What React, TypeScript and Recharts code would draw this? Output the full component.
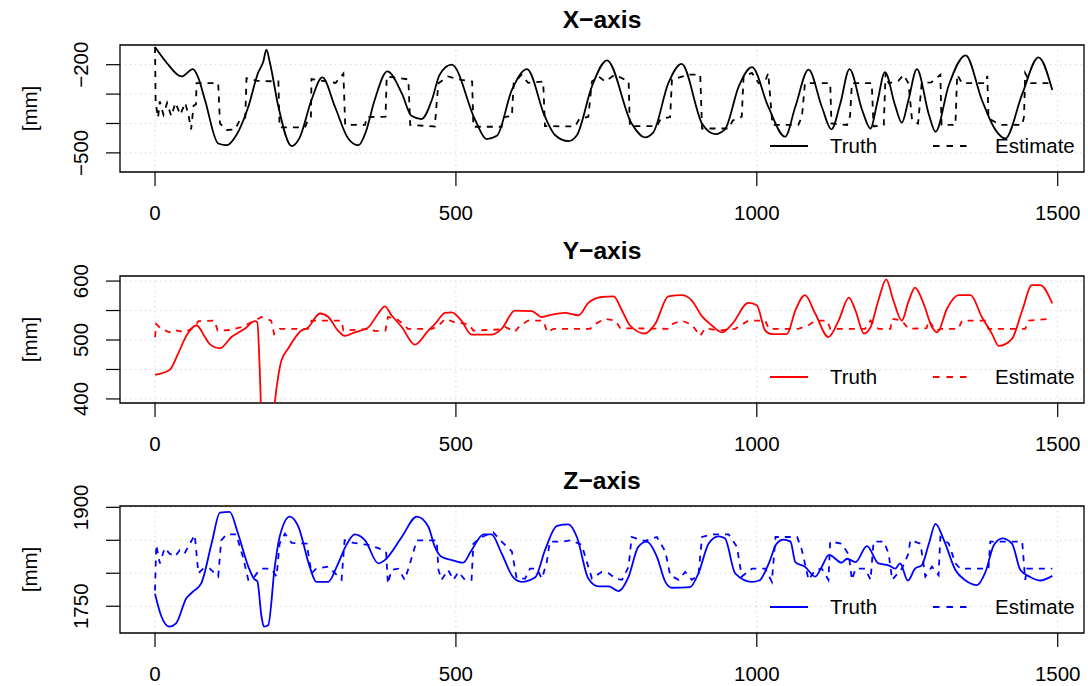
import React from 'react';
import { LineChart, Line, XAxis, YAxis, CartesianGrid, ReferenceArea, Legend } from 'recharts';

type Pt = [number, number];

const FONT = '"Liberation Sans", Arial, Helvetica, sans-serif';

// time axis
const timeTicks = [0, 500, 1000, 1500];
const timeDomain: [number, number] = [-58.2, 1543.7];

// X-axis panel (black)
const truthX: Pt[] = [
  [0, -140], [20, -195], [44, -240], [63, -215], [71, -240], [83, -320], [105, -468], [119, -474], [135, -440],
  [155, -343], [171, -229], [180, -189], [185, -149], [191, -194], [205, -343], [227, -477], [240, -450],
  [260, -320], [278, -243], [299, -343], [321, -451], [338, -474], [350, -430], [365, -320], [386, -223],
  [410, -297], [426, -374], [443, -385], [460, -320], [473, -234], [493, -200], [532, -388], [551, -453],
  [568, -442], [593, -286], [618, -215], [648, -377], [665, -440], [687, -460], [701, -440], [726, -274],
  [751, -185], [792, -400], [814, -447], [828, -430], [853, -263], [875, -197], [909, -400], [931, -436],
  [947, -420], [970, -274], [992, -208], [1019, -343], [1047, -445], [1064, -343], [1086, -217], [1108, -343],
  [1124, -420], [1139, -330], [1154, -215], [1175, -354], [1189, -417], [1200, -330], [1213, -225],
  [1230, -340], [1241, -397], [1252, -320], [1266, -215], [1286, -370], [1297, -428], [1319, -270],
  [1347, -168], [1374, -320], [1396, -420], [1413, -451], [1441, -300], [1468, -175], [1491, -286],
];
const estX: Pt[] = [
  [0, -140], [1, -330], [5, -380], [8, -325], [14, -370], [20, -330], [27, -375], [34, -330], [42, -370],
  [50, -330], [55, -365], [60, -420], [64, -340], [68, -335], [69, -263], [105, -263], [108, -400], [119, -422],
  [133, -420], [141, -388], [150, -380], [152, -246], [170, -255], [205, -257], [207, -413], [249, -413],
  [255, -385], [259, -380], [260, -249], [300, -262], [313, -230], [316, -405], [349, -405], [352, -378],
  [383, -377], [385, -240], [421, -250], [424, -405], [465, -410], [468, -330], [471, -263], [487, -240],
  [510, -252], [527, -257], [529, -411], [576, -411], [580, -378], [593, -375], [596, -263], [609, -234],
  [620, -262], [645, -257], [648, -409], [698, -410], [705, -385], [720, -377], [726, -257], [737, -240],
  [748, -257], [764, -234], [787, -257], [789, -409], [834, -409], [840, -385], [856, -378], [859, -251],
  [886, -234], [906, -234], [909, -417], [953, -417], [960, -390], [975, -377], [978, -240], [992, -228],
  [1003, -263], [1014, -255], [1019, -229], [1026, -405], [1069, -405], [1075, -377], [1080, -263],
  [1122, -263], [1124, -400], [1150, -405], [1155, -375], [1158, -263], [1191, -263], [1194, -410],
  [1211, -405], [1214, -229], [1219, -263], [1235, -255], [1244, -235], [1252, -263], [1258, -388],
  [1268, -400], [1274, -263], [1290, -260], [1305, -234], [1307, -405], [1330, -405], [1333, -234],
  [1341, -263], [1380, -263], [1383, -238], [1385, -383], [1396, -395], [1407, -405], [1441, -405],
  [1444, -377], [1446, -229], [1455, -263], [1491, -263],
];
const ticksX = [-500, -400, -300, -200];
const labelsX = [-500, -200];

// Y-axis panel (red)
const truthY: Pt[] = [
  [0, 441], [24, 449], [38, 476], [52, 507], [69, 525], [83, 505], [91, 493], [108, 486], [127, 505],
  [149, 519], [166, 532], [170, 530], [174, 450], [178, 330], [186, 270], [194, 330], [199, 393], [205, 440],
  [210, 465], [221, 485], [243, 516], [254, 521], [274, 545], [288, 539], [304, 516], [315, 507], [332, 513],
  [354, 521], [371, 545], [382, 557], [393, 542], [410, 522], [432, 492], [454, 516], [465, 527], [482, 546],
  [493, 547], [509, 533], [526, 509], [559, 509], [576, 519], [598, 550], [626, 549], [643, 539], [659, 543],
  [681, 546], [704, 542], [720, 563], [742, 573], [762, 574], [776, 550], [789, 525], [814, 511], [831, 527],
  [853, 574], [875, 576], [892, 567], [909, 540], [925, 525], [942, 513], [959, 527], [986, 563], [1000, 559],
  [1014, 516], [1025, 510], [1050, 510], [1064, 550], [1080, 576], [1097, 545], [1119, 505], [1136, 533],
  [1153, 572], [1164, 550], [1178, 511], [1189, 522], [1202, 567], [1215, 603], [1227, 567], [1241, 533],
  [1252, 565], [1263, 589], [1277, 562], [1291, 522], [1300, 513], [1316, 553], [1335, 576], [1355, 576],
  [1374, 539], [1391, 510], [1402, 490], [1424, 502], [1441, 550], [1457, 593], [1471, 593], [1491, 562],
];
const estY: Pt[] = [
  [0, 505], [2, 527], [10, 519], [24, 513], [33, 517], [49, 513], [66, 522], [72, 532], [99, 533], [104, 516],
  [125, 517], [144, 522], [160, 530], [177, 539], [193, 533], [198, 510], [207, 519], [254, 519], [260, 533],
  [310, 533], [313, 516], [360, 519], [365, 515], [383, 516], [387, 539], [400, 537], [415, 525], [420, 519],
  [460, 519], [470, 523], [482, 536], [498, 530], [521, 527], [529, 516], [576, 518], [582, 522], [598, 514],
  [606, 524], [620, 533], [645, 533], [652, 513], [662, 519], [723, 519], [731, 527], [748, 536], [765, 533],
  [773, 520], [853, 519], [859, 527], [875, 533], [892, 526], [906, 507], [914, 520], [936, 516], [964, 519],
  [986, 533], [1014, 533], [1020, 519], [1069, 519], [1086, 525], [1097, 533], [1117, 533], [1122, 519],
  [1180, 519], [1189, 533], [1202, 519], [1222, 519], [1225, 536], [1241, 533], [1252, 519], [1282, 520],
  [1286, 533], [1297, 516], [1307, 519], [1335, 519], [1341, 533], [1380, 533], [1385, 519], [1446, 519],
  [1452, 533], [1491, 536],
];
const ticksY = [400, 450, 500, 550, 600];
const labelsY = [400, 500, 600];

// Z-axis panel (blue)
const truthZ: Pt[] = [
  [0, 1769], [10, 1736], [24, 1719], [35, 1724], [52, 1762], [63, 1772], [77, 1785], [94, 1845], [108, 1892],
  [124, 1893], [138, 1860], [155, 1810], [165, 1791], [170, 1788], [177, 1734], [181, 1719], [188, 1721],
  [199, 1810], [207, 1855], [224, 1886], [238, 1871], [257, 1810], [268, 1787], [288, 1787], [302, 1810],
  [318, 1843], [332, 1859], [349, 1850], [371, 1815], [382, 1820], [410, 1855], [435, 1886], [454, 1871],
  [465, 1840], [476, 1825], [493, 1820], [512, 1816], [526, 1835], [546, 1859], [559, 1859], [576, 1830],
  [595, 1794], [609, 1787], [632, 1794], [648, 1835], [668, 1872], [687, 1874], [701, 1855], [720, 1792],
  [737, 1780], [754, 1780], [770, 1773], [787, 1795], [803, 1840], [817, 1848], [834, 1825], [848, 1787],
  [859, 1778], [889, 1779], [903, 1800], [920, 1845], [936, 1856], [947, 1853], [964, 1800], [992, 1787],
  [1004, 1789], [1020, 1815], [1033, 1845], [1044, 1851], [1056, 1848], [1064, 1817], [1080, 1810],
  [1097, 1795], [1108, 1810], [1120, 1828], [1141, 1816], [1150, 1822], [1164, 1817], [1183, 1841],
  [1202, 1815], [1219, 1812], [1230, 1807], [1238, 1815], [1251, 1789], [1263, 1807], [1274, 1812],
  [1286, 1845], [1297, 1875], [1311, 1850], [1330, 1805], [1347, 1789], [1366, 1782], [1380, 1802],
  [1394, 1843], [1408, 1853], [1424, 1845], [1438, 1805], [1455, 1794], [1471, 1789], [1491, 1796],
];
const estZ: Pt[] = [
  [0, 1774], [2, 1843], [8, 1815], [16, 1838], [24, 1830], [33, 1825], [41, 1835], [49, 1830], [58, 1845],
  [66, 1858], [72, 1800], [80, 1807], [91, 1807], [105, 1795], [110, 1850], [119, 1859], [135, 1859],
  [146, 1825], [155, 1790], [163, 1792], [171, 1802], [177, 1807], [193, 1807], [202, 1795], [207, 1845],
  [216, 1860], [227, 1846], [252, 1845], [260, 1800], [268, 1807], [288, 1810], [310, 1790], [315, 1850],
  [330, 1846], [354, 1843], [371, 1838], [384, 1833], [387, 1784], [393, 1805], [404, 1807], [415, 1790],
  [421, 1807], [435, 1850], [468, 1850], [471, 1805], [476, 1790], [487, 1805], [496, 1790], [504, 1802],
  [515, 1790], [526, 1790], [529, 1845], [543, 1855], [562, 1862], [576, 1848], [593, 1833], [601, 1792],
  [615, 1792], [623, 1807], [634, 1807], [643, 1792], [651, 1817], [656, 1848], [676, 1848], [692, 1850],
  [709, 1843], [726, 1792], [742, 1802], [754, 1800], [765, 1792], [776, 1790], [787, 1810], [792, 1855],
  [814, 1849], [834, 1855], [848, 1833], [856, 1797], [870, 1790], [881, 1802], [892, 1790], [903, 1797],
  [909, 1855], [925, 1859], [953, 1859], [967, 1840], [975, 1795], [992, 1807], [1014, 1807], [1025, 1787],
  [1031, 1855], [1067, 1855], [1075, 1835], [1086, 1790], [1097, 1805], [1108, 1807], [1119, 1790],
  [1122, 1848], [1141, 1845], [1153, 1828], [1158, 1790], [1164, 1807], [1180, 1807], [1189, 1790],
  [1194, 1848], [1211, 1848], [1219, 1830], [1225, 1790], [1241, 1807], [1252, 1830], [1255, 1850],
  [1272, 1845], [1280, 1795], [1291, 1810], [1302, 1797], [1305, 1855], [1319, 1845], [1330, 1815],
  [1338, 1807], [1385, 1807], [1388, 1848], [1441, 1848], [1446, 1790], [1449, 1807], [1491, 1807],
];
const ticksZ = [1750, 1800, 1850, 1900];
const labelsZ = [1750, 1900];

const toRows = (pts: Pt[]) => pts.map(([t, v]) => ({ t, v }));

const panels = [
  { title: 'X\u2212axis', color: '#000000', truth: truthX, est: estX, domain: [-565, -133], ticks: ticksX, labels: labelsX, top: 0 },
  { title: 'Y\u2212axis', color: '#FF0000', truth: truthY, est: estY, domain: [393.1, 608.6], ticks: ticksY, labels: labelsY, top: 231 },
  { title: 'Z\u2212axis', color: '#0000FF', truth: truthZ, est: estZ, domain: [1709.4, 1902], ticks: ticksZ, labels: labelsZ, top: 461 },
];

const fmt = (v: number) => (v < 0 ? '\u2212' + Math.abs(v) : String(v));

function TimeTick(props: any) {
  const { x, y, payload } = props;
  return (
    <text x={x} y={y + 32} textAnchor="middle" fontSize={20.5} fontFamily={FONT} fill="#000">
      {payload.value}
    </text>
  );
}

const makeValueTick = (shown: number[]) => (props: any) => {
  const { x, y, payload } = props;
  if (!shown.includes(payload.value)) return <g />;
  const cx = x - 23;
  return (
    <text x={cx} y={y} dy="0.36em" transform={`rotate(-90 ${cx} ${y})`} textAnchor="middle" fontSize={20.5} fontFamily={FONT} fill="#000">
      {fmt(payload.value)}
    </text>
  );
};

const mmLabel = (props: any) => {
  const vb = props.viewBox || {};
  const cy = (vb.y || 45) + (vb.height || 127) / 2;
  return (
    <text x={30} y={cy} dy="0.36em" transform={`rotate(-90 30 ${cy})`} textAnchor="middle" fontSize={20.5} fontFamily={FONT} fill="#000">
      [mm]
    </text>
  );
};

const makeKey = (color: string) => () => (
  <svg width={330} height={30} style={{ display: 'block' }}>
    <line x1={10} x2={48} y1={15} y2={15} stroke={color} strokeWidth={1.8} />
    <text x={70} y={22.3} fontSize={20.5} fontFamily={FONT} fill="#000">Truth</text>
    <line x1={173} x2={208} y1={15} y2={15} stroke={color} strokeWidth={1.8} strokeDasharray="6.5 7" />
    <text x={235} y={22.3} fontSize={20.5} fontFamily={FONT} fill="#000">Estimate</text>
  </svg>
);

export default function App() {
  return (
    <div style={{ position: 'absolute', left: 0, top: 0, width: 1088, height: 686, background: '#fff' }}>
      {panels.map((p) => (
        <div key={p.title} style={{ position: 'absolute', left: 0, top: p.top, width: 1088, height: 230 }}>
          <LineChart width={1088} height={230} margin={{ top: 45, right: 4, bottom: 0, left: 0 }}>
            <CartesianGrid stroke="#d3d3d3" strokeDasharray="1.3 3.7" />
            <XAxis
              type="number"
              dataKey="t"
              domain={timeDomain}
              ticks={timeTicks}
              allowDataOverflow
              height={58}
              axisLine={false}
              tickLine={{ stroke: '#000', strokeWidth: 1.2 }}
              tickSize={14}
              tick={<TimeTick />}
            />
            <YAxis
              type="number"
              dataKey="v"
              domain={p.domain}
              ticks={p.ticks}
              allowDataOverflow
              width={120}
              axisLine={false}
              tickLine={{ stroke: '#000', strokeWidth: 1.2 }}
              tickSize={14}
              tick={makeValueTick(p.labels)}
              label={mmLabel}
            />
            <Line
              data={toRows(p.truth)}
              dataKey="v"
              type="monotone"
              stroke={p.color}
              strokeWidth={1.8}
              dot={false}
              isAnimationActive={false}
            />
            <Line
              data={toRows(p.est)}
              dataKey="v"
              type="linear"
              stroke={p.color}
              strokeWidth={1.8}
              strokeDasharray="6 6"
              dot={false}
              isAnimationActive={false}
            />
            <ReferenceArea
              x1={timeDomain[0]}
              x2={timeDomain[1]}
              y1={p.domain[0]}
              y2={p.domain[1]}
              fill="none"
              fillOpacity={0}
              stroke="#000"
              strokeWidth={1.3}
            />
            <Legend
              layout="horizontal"
              align="center"
              verticalAlign="middle"
              content={makeKey(p.color)}
              wrapperStyle={{ left: 760, top: 131, width: 330, height: 30 }}
            />
          </LineChart>
          <div
            style={{
              position: 'absolute',
              left: 120,
              top: 8,
              width: 964,
              textAlign: 'center',
              fontFamily: FONT,
              fontWeight: 'bold',
              fontSize: 24.6,
              lineHeight: 1,
            }}
          >
            {p.title}
          </div>
        </div>
      ))}
    </div>
  );
}
